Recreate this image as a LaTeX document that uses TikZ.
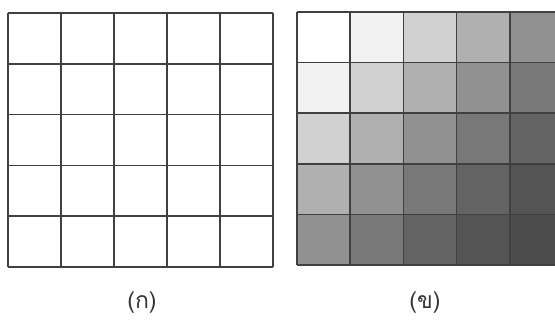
\documentclass[tikz,border=0pt]{standalone}
\usepackage{fontspec}
\newfontfamily\thaifont[Script=Thai]{Loma}
\begin{document}
\begin{tikzpicture}[x=1pt,y=-1pt,
  gridline/.style={draw=black!75, line width=1.7pt},
  lbl/.style={font=\thaifont\fontsize{23}{26}\selectfont, text=black!80, inner sep=0pt}]
\useasboundingbox (0,0) rectangle (555,324);
\fill[white] (0,0) rectangle (555,324);
% left grid (white)
\foreach \i in {0,...,5}{
  \draw[gridline] ({8+53*\i},13) -- ({8+53*\i},267);
  \draw[gridline] (8,{13+50.8*\i}) -- (273,{13+50.8*\i});
}
% right grid (gray gradient)
\begin{scope}
\clip (0,0) rectangle (555,324);
\foreach \r in {0,...,4}{
  \foreach \c in {0,...,4}{
    \pgfmathtruncatemacro{\s}{\r+\c}
    \pgfmathsetmacro{\g}{{100,95,82,69,57,47,39,33,30}[\s]}
    \fill[white!\g!black] ({297+53.2*\c},{12+50.6*\r}) rectangle ++(53.2,50.6);
  }
}
\foreach \i in {0,...,5}{
  \draw[gridline] ({297+53.2*\i},12) -- ({297+53.2*\i},265);
  \draw[gridline] (297,{12+50.6*\i}) -- (563,{12+50.6*\i});
}
\end{scope}
\node[lbl] (ka) at (142,303) {(ก)};
\node[lbl] (kho) at (425,303) {(ข)};
\end{tikzpicture}
\end{document}
